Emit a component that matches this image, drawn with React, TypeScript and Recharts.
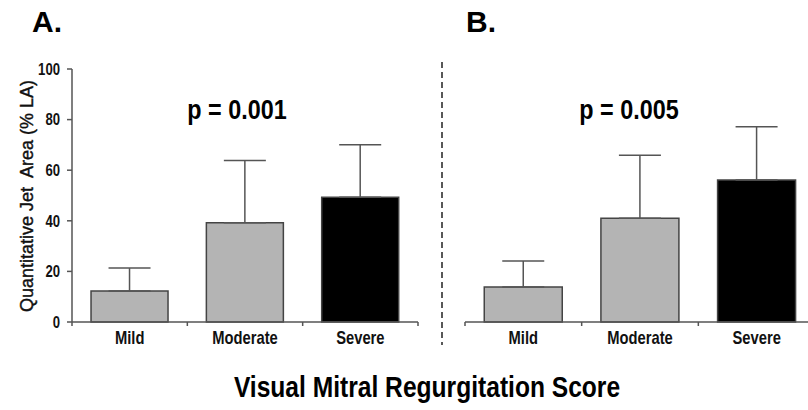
import React from "react";
import { BarChart, Bar, XAxis, YAxis, ErrorBar, Cell } from "recharts";

// categorias y valores
const categories = ["Mild", "Moderate", "Severe"];
const meansA = [12.3, 39.2, 49.3];
const sdA = [9.0, 24.6, 20.8];
const meansB = [13.8, 41.0, 56.1];
const sdB = [10.3, 24.9, 21.1];
const yTicks = [0, 20, 40, 60, 80, 100];
const barColors = ["#b4b4b4", "#b4b4b4", "#000000"];

const dataA = categories.map((cat, i) => ({ cat, mean: meansA[i], err: [0, sdA[i]] }));
const dataB = categories.map((cat, i) => ({ cat, mean: meansB[i], err: [0, sdB[i]] }));

const SANS = "'Liberation Sans', Arial, sans-serif";
const AXIS = "#555";

// texto "narrow": Liberation Sans comprimida en horizontal
const Narrow = ({ x, y, size, anchor = "middle", dy, children, weight = "bold", fill = "#111" }: any) => (
  <text
    transform={`translate(${x},${y}) scale(0.82,1)`}
    textAnchor={anchor}
    dy={dy}
    fontFamily={SANS}
    fontWeight={weight}
    fontSize={size}
    fill={fill}
  >
    {children}
  </text>
);

const CatTick = (props: any) => {
  const { x, y, payload, index } = props;
  const half = payload.offset || 57.7;
  const top = y - 8;
  return (
    <g>
      <line x1={x - half} x2={x - half} y1={top} y2={top + 4} stroke={AXIS} strokeWidth={1.5} />
      {index === categories.length - 1 && (
        <line x1={x + half} x2={x + half} y1={top} y2={top + 4} stroke={AXIS} strokeWidth={1.5} />
      )}
      <Narrow x={x} y={y} dy="0.75em" size={18}>
        {payload.value}
      </Narrow>
    </g>
  );
};

const ValTick = (props: any) => {
  const { x, y, payload } = props;
  return (
    <Narrow x={x} y={y} dy="0.36em" anchor="end" size={16}>
      {payload.value}
    </Narrow>
  );
};

const Panel = ({ data, showY, margin, width }: any) => (
  <BarChart width={width} height={360} data={data} margin={margin} barCategoryGap="16.5%">
    <XAxis
      dataKey="cat"
      axisLine={{ stroke: AXIS, strokeWidth: 1.5 }}
      tickLine={false}
      tickSize={5}
      tickMargin={3}
      height={30}
      interval={0}
      tick={<CatTick />}
    />
    <YAxis
      hide={!showY}
      width={40}
      domain={[0, 100]}
      ticks={yTicks}
      interval={0}
      axisLine={{ stroke: AXIS, strokeWidth: 1.5 }}
      tickLine={{ stroke: AXIS, strokeWidth: 1.5 }}
      tickSize={5}
      tickMargin={7}
      tick={<ValTick />}
    />
    <Bar dataKey="mean" stroke="#444" strokeWidth={1.5} isAnimationActive={false}>
      {data.map((_: any, i: number) => (
        <Cell key={i} fill={barColors[i]} />
      ))}
      <ErrorBar dataKey="err" direction="y" width={21} stroke="#555" strokeWidth={1.5} isAnimationActive={false} />
    </Bar>
  </BarChart>
);

export default function App() {
  return (
    <div style={{ position: "absolute", left: 0, top: 0, width: 808, height: 410, overflow: "hidden", background: "#fff" }}>
      <div style={{ position: "absolute", left: 0, top: 0 }}>
        <Panel data={dataA} showY width={430} margin={{ top: 69, right: 12, bottom: 8, left: 32 }} />
      </div>
      <div style={{ position: "absolute", left: 440, top: 0 }}>
        <Panel data={dataB} showY={false} width={380} margin={{ top: 69, right: 5, bottom: 8, left: 25 }} />
      </div>
      <svg width={808} height={410} style={{ position: "absolute", left: 0, top: 0, pointerEvents: "none" }}>
        <text x={32} y={32} fontFamily={SANS} fontWeight="bold" fontSize={30} fill="#000">A.</text>
        <text x={466} y={32} fontFamily={SANS} fontWeight="bold" fontSize={30} fill="#000">B.</text>
        <Narrow x={237} y={119} size={28.5} fill="#000">p = 0.001</Narrow>
        <Narrow x={629} y={119} size={28.5} fill="#000">p = 0.005</Narrow>
        <Narrow x={427} y={397} size={30} fill="#000">Visual Mitral Regurgitation Score</Narrow>
        <text
          x={0}
          y={0}
          transform="translate(33,196) rotate(-90)"
          textAnchor="middle"
          fontFamily={SANS}
          fontSize={18}
          fill="#111"
          stroke="#111"
          strokeWidth={0.4}
          style={{ whiteSpace: "pre" }}
        >
          Quantitative Jet  Area (% LA)
        </text>
        <line x1={442} x2={442} y1={62} y2={345} stroke="#222" strokeWidth={1.5} strokeDasharray="6 4" />
      </svg>
    </div>
  );
}
